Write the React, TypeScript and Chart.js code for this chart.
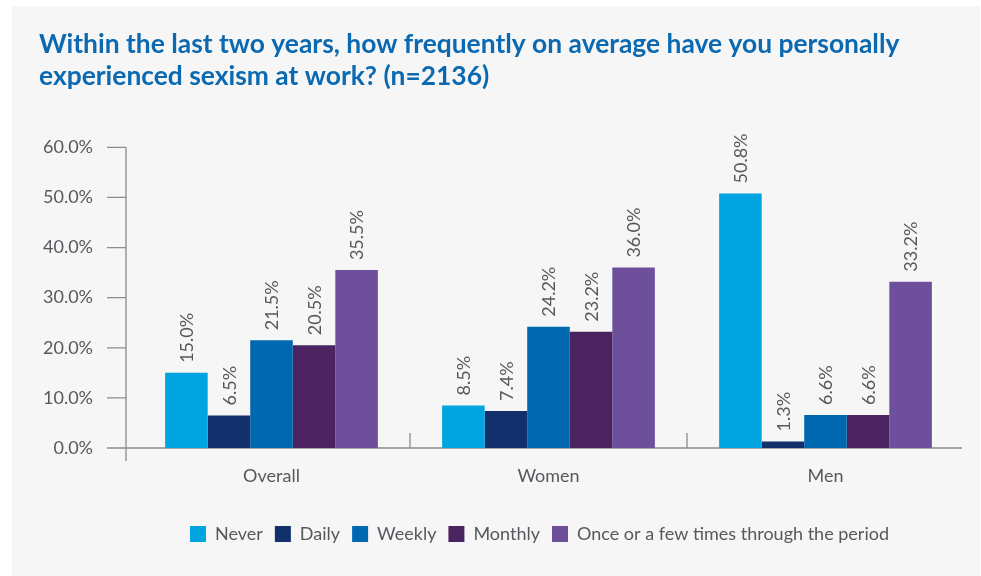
import React, { useEffect, useRef } from "react";
import { Chart, registerables } from "chart.js";

Chart.register(...registerables);

const titleLines = [
  "Within the last two years, how frequently on average have you personally",
  "experienced sexism at work? (n=2136)",
];
const categories = ["Overall", "Women", "Men"];
const seriesNames = ["Never", "Daily", "Weekly", "Monthly", "Once or a few times through the period"];
const never = [15.0, 8.5, 50.8];
const daily = [6.5, 7.4, 1.3];
const weekly = [21.5, 24.2, 6.6];
const monthly = [20.5, 23.2, 6.6];
const once = [35.5, 36.0, 33.2];
const seriesColors = ["#00a4e0", "#12306c", "#0068b0", "#4a2360", "#6e4f9c"];
const yMin = 0;
const yMax = 60;
const yStep = 10;

const TEXT = "#55585c";
const AXIS = "#8c8c8c";

const axesPlugin = {
  id: "customAxes",
  afterLayout(chart: any) {
    // nudge the legend so it sits where the original one does
    const lg = chart.legend;
    if (lg) {
      lg.left -= 9;
      lg.right -= 9;
    }
  },
  beforeDatasetsDraw(chart: any) {
    const { ctx, chartArea } = chart;
    const xs = chart.scales.x;
    const ys = chart.scales.y;
    const axisX = chartArea.left - 7;
    const y0 = ys.getPixelForValue(yMin);
    ctx.save();
    ctx.strokeStyle = AXIS;
    ctx.lineWidth = 1.3;
    ctx.beginPath();
    ctx.moveTo(axisX, ys.getPixelForValue(yMax));
    ctx.lineTo(axisX, y0 + 13);
    for (let v = yMin; v <= yMax; v += yStep) {
      const py = ys.getPixelForValue(v);
      ctx.moveTo(axisX - 19, py);
      ctx.lineTo(axisX, py);
    }
    ctx.moveTo(axisX - 19, y0);
    ctx.lineTo(xs.right - 2, y0);
    for (let i = 1; i < categories.length; i++) {
      const bx = (xs.getPixelForValue(i - 1) + xs.getPixelForValue(i)) / 2;
      ctx.moveTo(bx, y0);
      ctx.lineTo(bx, y0 - 15);
    }
    ctx.stroke();
    ctx.restore();
  },
};

const labelPlugin = {
  id: "barLabels",
  afterDatasetsDraw(chart: any) {
    const { ctx } = chart;
    ctx.save();
    ctx.fillStyle = TEXT;
    ctx.font = "18px Lato";
    ctx.textAlign = "left";
    ctx.textBaseline = "middle";
    chart.data.datasets.forEach((ds: any, di: number) => {
      const meta = chart.getDatasetMeta(di);
      meta.data.forEach((el: any, i: number) => {
        const v = ds.data[i] as number;
        ctx.save();
        ctx.translate(el.x + 1, el.y - 10);
        ctx.rotate(-Math.PI / 2);
        ctx.fillText(v.toFixed(1) + "%", 0, 0);
        ctx.restore();
      });
    });
    ctx.restore();
  },
};

export default function App() {
  const canvasRef = useRef<HTMLCanvasElement | null>(null);

  useEffect(() => {
    if (!canvasRef.current) return;
    Chart.defaults.font.family = "Lato";
    const values = [never, daily, weekly, monthly, once];
    const chart = new Chart(canvasRef.current, {
      type: "bar",
      data: {
        labels: categories,
        datasets: seriesNames.map((name, i) => ({
          label: name,
          data: values[i],
          backgroundColor: seriesColors[i],
          borderWidth: 0,
          categoryPercentage: 0.768,
          barPercentage: 1.0,
        })),
      },
      options: {
        animation: false,
        responsive: true,
        maintainAspectRatio: false,
        layout: { padding: { left: 27, right: 16, top: 0, bottom: 23 } },
        plugins: {
          title: {
            display: true,
            text: titleLines,
            align: "start",
            color: "#0a69b0",
            font: { family: "Lato", size: 26.4, weight: "bold", lineHeight: 1.2 },
            padding: { top: 23, bottom: 55 },
          },
          legend: {
            position: "bottom",
            fullSize: false,
            labels: {
              boxWidth: 16,
              boxHeight: 16,
              padding: 12,
              color: TEXT,
              font: { family: "Lato", size: 18 },
            },
          },
          tooltip: { enabled: false },
        },
        scales: {
          x: {
            grid: { display: false, drawTicks: false },
            border: { display: false },
            ticks: { color: TEXT, font: { family: "Lato", size: 18 }, padding: 17 },
            afterFit: (s: any) => {
              s.height = 65;
            },
          },
          y: {
            min: yMin,
            max: yMax,
            grid: { display: false, drawTicks: false },
            border: { display: false },
            ticks: {
              stepSize: yStep,
              color: TEXT,
              font: { family: "Lato", size: 18 },
              padding: 40,
              callback: (v: any) => Number(v).toFixed(1) + "%",
            },
            afterFit: (s: any) => {
              s.width = 94;
            },
          },
        },
      },
      plugins: [axesPlugin, labelPlugin],
    });
    return () => chart.destroy();
  }, []);

  return (
    <div
      style={{
        position: "absolute",
        left: 12,
        top: 6,
        width: 968,
        height: 570,
        background: "#f6f6f6",
      }}
    >
      <canvas ref={canvasRef} />
    </div>
  );
}
